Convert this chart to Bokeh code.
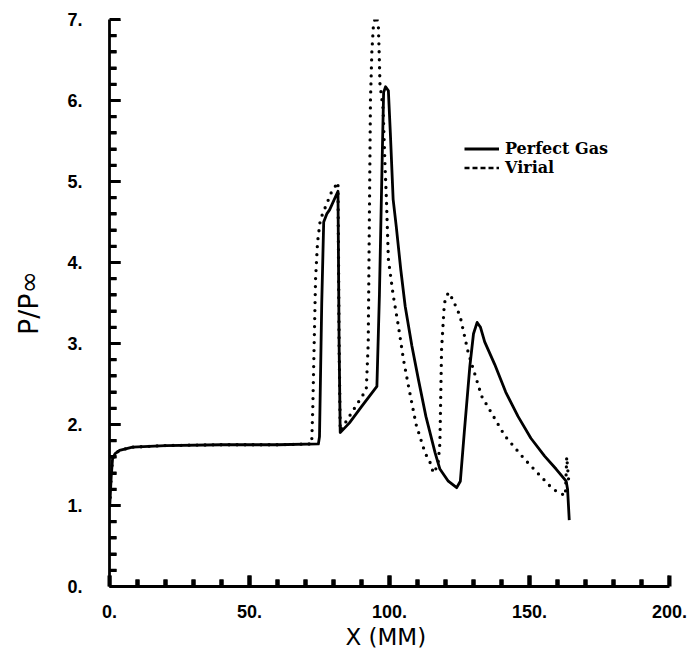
import math
from bokeh.plotting import figure
from bokeh.models import FixedTicker, Legend, LegendItem, Range1d
from bokeh.embed import file_html
from bokeh.resources import INLINE

# ---- data ----
perfect_x = [0.1, 0.6, 1.1, 2.0, 3.6, 8.2, 20, 40, 60, 74.6, 75.0, 75.8, 76.5, 77.6, 78.6,
             81.6, 82.0, 82.4, 85.7, 90.0, 95.5, 96.4, 97.4, 97.9, 98.6, 99.6, 100.3, 101.3,
             102.4, 104.0, 105.6, 108.0, 110.3, 113.0, 116.3, 118.0, 121.0, 124.0, 125.3,
             126.7, 128.7, 130.0, 131.3, 132.5, 134.0, 137.6, 141.5, 145.9, 150.5, 155.4,
             159.5, 163.1, 163.6, 164.2]
perfect_y = [1.0, 1.35, 1.58, 1.64, 1.68, 1.72, 1.74, 1.75, 1.75, 1.76, 1.85, 3.5, 4.5, 4.6, 4.65,
             4.88, 3.0, 1.90, 2.02, 2.22, 2.47, 3.6, 5.3, 6.1, 6.17, 6.12, 5.6, 4.78,
             4.45, 3.92, 3.46, 2.97, 2.56, 2.10, 1.65, 1.45, 1.30, 1.22, 1.30,
             1.90, 2.72, 3.12, 3.26, 3.20, 3.02, 2.74, 2.40, 2.10, 1.83, 1.61,
             1.45, 1.30, 1.20, 0.82]

virial_x = [0.1, 0.6, 1.1, 2.0, 3.6, 8.2, 20, 40, 60, 72.2, 72.6, 73.6, 74.3, 75.3, 79.4,
            81.6, 82.0, 82.4, 86.0, 91.7, 92.4, 92.8, 93.2, 93.7, 94.3, 95.2, 96.0, 96.3,
            96.6, 97.7, 98.4, 98.9, 99.6, 101.3, 103.2, 105.0, 106.8, 109.5, 112.7, 114.5,
            115.7, 117.3, 118.0, 118.6, 119.6, 121.0, 122.5, 125.2, 128.1, 132.9, 141.2,
            148.3, 158.4, 162.8, 163.3, 164.0]
virial_y = [1.0, 1.35, 1.58, 1.64, 1.68, 1.72, 1.74, 1.75, 1.75, 1.76, 2.2, 3.8, 4.25, 4.53, 4.88,
            4.99, 3.0, 1.92, 2.12, 2.43, 3.0, 4.5, 6.0, 6.6, 6.95, 7.04, 6.95, 6.6,
            6.2, 5.9, 5.2, 4.78, 4.04, 3.60, 3.21, 2.80, 2.47, 2.00, 1.65, 1.53,
            1.40, 1.50, 1.77, 2.93, 3.50, 3.63, 3.55, 3.34, 2.89, 2.35, 1.86,
            1.57, 1.20, 1.12, 1.60, 1.30]

x_ticks = [0, 50, 100, 150, 200]
x_tick_labels = ["0.", "50.", "100.", "150.", "200."]
x_minor = [v for v in range(0, 201, 10) if v not in x_ticks]
y_ticks = [0, 1, 2, 3, 4, 5, 6, 7]
y_tick_labels = ["0.", "1.", "2.", "3.", "4.", "5.", "6.", "7."]
y_minor = [i / 5 for i in range(0, 36) if i % 5 != 0]

series_labels = ["Perfect Gas", "Virial"]

# ---- layout / style ----
X0, X1, Y0, Y1 = 0, 200, 0, 7
W, H = 692, 654
LEFT, TOP, RIGHT = 109, 19, 23
FRAME_W = W - LEFT - RIGHT          # 560 px
FRAME_H = 567
BOTTOM = H - TOP - FRAME_H
MAJ, MIN = 11, 7                    # tick lengths in px
TICK_W = 3
XTICK_W = 4

p = figure(width=W, height=H, output_backend="svg", toolbar_location=None,
           x_range=Range1d(X0, X1), y_range=Range1d(Y0, Y1),
           min_border_left=LEFT, min_border_top=TOP, min_border_right=RIGHT,
           min_border_bottom=BOTTOM)
p.grid.visible = False
p.outline_line_color = None
p.background_fill_color = "white"
p.border_fill_color = "white"

solid = p.line(perfect_x, perfect_y, line_color="black", line_width=2.8, line_join="round")
dotted = p.line(virial_x, virial_y, line_color="black", line_width=3.3, line_dash="0 8",
                line_cap="round", line_join="round")
leg_dash = p.line(x=[math.nan], y=[math.nan], line_color="black", line_width=2.4,
                  line_dash="5 3")

# inward tick marks, drawn from the tick arrays
dy_maj = MAJ * (Y1 - Y0) / FRAME_H
dy_min = MIN * (Y1 - Y0) / FRAME_H
dx_maj = MAJ * (X1 - X0) / FRAME_W
dx_min = MIN * (X1 - X0) / FRAME_W
half_w = 0.5 * XTICK_W * (X1 - X0) / FRAME_W
p.quad(left=[v - half_w for v in x_ticks], right=[v + half_w for v in x_ticks],
       bottom=[Y0] * len(x_ticks), top=[Y0 + dy_maj] * len(x_ticks),
       fill_color="black", line_color=None)
p.quad(left=[v - half_w for v in x_minor], right=[v + half_w for v in x_minor],
       bottom=[Y0] * len(x_minor), top=[Y0 + dy_min] * len(x_minor),
       fill_color="black", line_color=None)
tick_xs = [[X0, X0 + dx_maj] for _ in y_ticks] + [[X0, X0 + dx_min] for _ in y_minor]
tick_ys = [[v, v] for v in y_ticks] + [[v, v] for v in y_minor]
p.multi_line(xs=tick_xs, ys=tick_ys, line_color="black", line_width=TICK_W)

for ax, ticks, labels, minor, tw in ((p.xaxis[0], x_ticks, x_tick_labels, x_minor, XTICK_W),
                                     (p.yaxis[0], y_ticks, y_tick_labels, y_minor, TICK_W)):
    ax.ticker = FixedTicker(ticks=ticks, minor_ticks=minor)
    ax.major_label_overrides = {t: l for t, l in zip(ticks, labels)}
    ax.axis_line_width = 2.8
    ax.axis_line_color = "black"
    ax.major_tick_in = MAJ
    ax.major_tick_out = 0
    ax.minor_tick_in = MIN
    ax.minor_tick_out = 0
    ax.major_tick_line_width = tw
    ax.minor_tick_line_width = tw
    ax.major_tick_line_color = "black"
    ax.minor_tick_line_color = "black"
    ax.major_label_text_font = "Liberation Sans"
    ax.major_label_text_font_style = "bold"
    ax.major_label_text_font_size = "18px"
    ax.major_label_text_color = "black"
    ax.axis_label_text_font = "DejaVu Sans"
    ax.axis_label_text_font_style = "normal"
    ax.axis_label_text_color = "black"

p.xaxis.axis_label = "X  (MM)"
p.xaxis.axis_label_text_font_size = "23px"
p.xaxis.major_label_standoff = 18
p.xaxis.axis_label_standoff = 3
p.yaxis.axis_label = "P/P\u221e"
p.yaxis.axis_label_text_font_size = "27px"
p.yaxis.major_label_standoff = 27
p.yaxis.axis_label_standoff = 20

legend = Legend(items=[LegendItem(label=series_labels[0], renderers=[solid]),
                       LegendItem(label=series_labels[1], renderers=[leg_dash])],
                location=(355, 409), glyph_width=35, glyph_height=17, label_height=17,
                label_standoff=6, padding=0, spacing=0, margin=0,
                border_line_alpha=0, background_fill_alpha=0,
                label_text_font="DejaVu Serif", label_text_font_style="bold",
                label_text_font_size="16px", label_text_color="black")
p.add_layout(legend)

open("out.html", "w").write(file_html(p, INLINE))
